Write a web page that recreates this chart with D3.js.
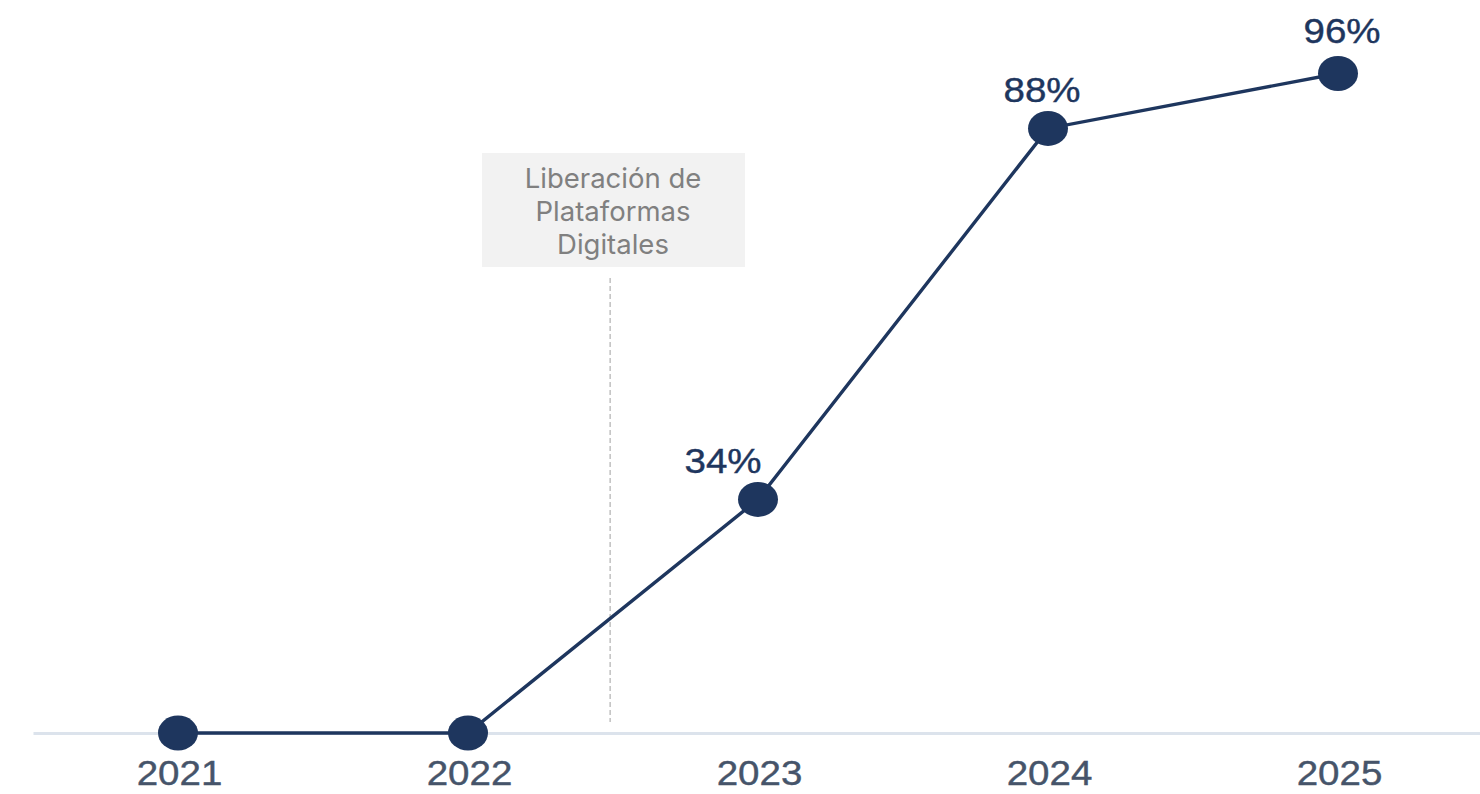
<!DOCTYPE html>
<html>
<head>
<meta charset="utf-8">
<script src="https://cdn.jsdelivr.net/npm/d3@7"></script>
<style>
  html, body { margin: 0; padding: 0; background: #ffffff; }
  svg { display: block; }
</style>
</head>
<body>
<svg id="chart" width="1480" height="794"></svg>
<script>
// ---- data ----
const years = ["2021", "2022", "2023", "2024", "2025"];
const values = [0, 0, 34, 88, 96];
const valueLabels = ["", "", "34%", "88%", "96%"];
const annotationLines = ["Liberación de", "Plataformas", "Digitales"];
const annotationAt = 2022.49; // between 2022 and 2023

// ---- drawing ----
const W = 1480, H = 794;
const svg = d3.select("#chart");

const x = d3.scalePoint().domain(years).range([33, 1483]).padding(0.5);
const y = d3.scaleLinear().domain([0, 100]).range([733, 46]);

const navy = "#1e365e";
const stretch = 1.1;

// annotation dashed line + box
const annX = x("2022") + (x("2023") - x("2022")) * (annotationAt - 2022);
svg.append("line")
  .attr("x1", annX).attr("x2", annX)
  .attr("y1", 278).attr("y2", 722)
  .attr("stroke", "#a0a0a0").attr("stroke-width", 1)
  .attr("stroke-dasharray", "5,3");

svg.append("rect")
  .attr("x", 482).attr("y", 153).attr("width", 263).attr("height", 114)
  .attr("fill", "#f2f2f2");

const annText = svg.append("text")
  .attr("text-anchor", "middle")
  .attr("font-family", "Inter, 'Open Sans', sans-serif")
  .attr("font-size", 27.5)
  .attr("fill", "#808080");
annotationLines.forEach((t, i) => {
  annText.append("tspan").attr("x", 613).attr("y", 188 + i * 33).text(t);
});

// axis
const axis = svg.append("g")
  .attr("transform", `translate(0,${y(0)})`)
  .call(d3.axisBottom(x).tickSize(0).tickPadding(0));
axis.select(".domain").attr("stroke", "#dce3ec").attr("stroke-width", 3);
axis.selectAll(".tick text")
  .attr("font-family", "'Liberation Sans', Arial, sans-serif")
  .attr("font-size", 35)
  .attr("fill", "#46546a")
  .attr("stroke", "#46546a")
  .attr("stroke-width", 0.4)
  .attr("dy", null)
  .attr("y", 0)
  .attr("transform", `translate(1,52) scale(${stretch},1)`);

// line
const pts = years.map((yr, i) => ({ yr, v: values[i], lab: valueLabels[i] }));
const line = d3.line().x(d => x(d.yr)).y(d => y(d.v));
svg.append("path")
  .datum(pts)
  .attr("d", line)
  .attr("fill", "none")
  .attr("stroke", navy)
  .attr("stroke-width", 3.4);

// markers
svg.selectAll("ellipse.dot")
  .data(pts)
  .join("ellipse")
  .attr("class", "dot")
  .attr("cx", d => x(d.yr))
  .attr("cy", d => y(d.v))
  .attr("rx", 20)
  .attr("ry", 17.5)
  .attr("fill", navy);

// value labels
svg.selectAll("text.val")
  .data(pts.filter(d => d.lab))
  .join("text")
  .attr("class", "val")
  .attr("text-anchor", "middle")
  .attr("font-family", "'Liberation Sans', Arial, sans-serif")
  .attr("font-size", 35)
  .attr("fill", navy)
  .attr("stroke", navy)
  .attr("stroke-width", 0.4)
  .attr("transform", d => {
    const dx = d.v < 50 ? -35 : (d.v > 90 ? 4 : -6);
    const dy = d.v > 90 ? -30 : -26;
    return `translate(${x(d.yr) + dx},${y(d.v) + dy}) scale(${stretch},1)`;
  })
  .text(d => d.lab);
</script>
</body>
</html>
